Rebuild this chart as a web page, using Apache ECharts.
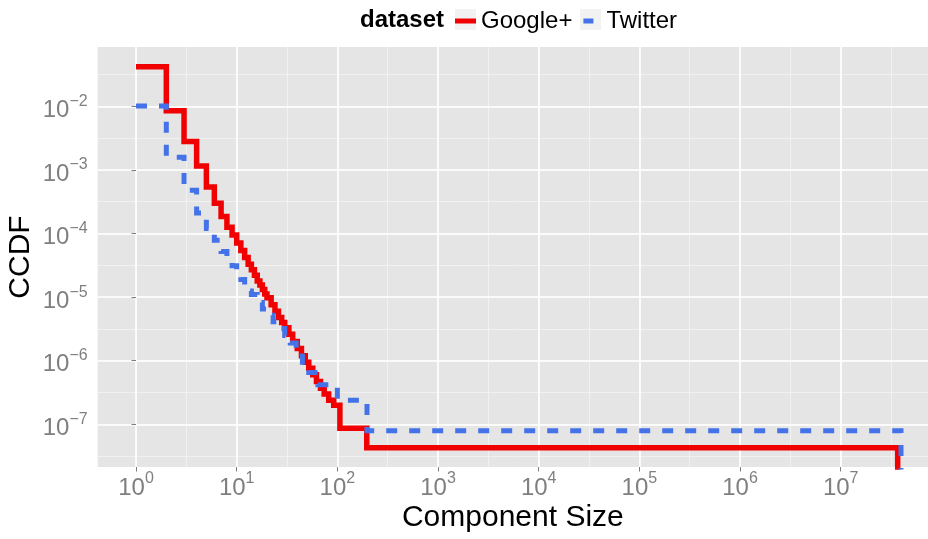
<!DOCTYPE html>
<html><head><meta charset="utf-8">
<script src="https://cdn.jsdelivr.net/npm/echarts@6/dist/echarts.min.js"></script>
<style>html,body{margin:0;padding:0;background:#fff}#c{width:928px;height:539px}</style>
</head><body><div id="c"></div>
<script>
// ---- data ----
const seriesNames = ['Google+', 'Twitter'];
const googleSize = [1, 2, 3, 4, 5, 6, 7, 8, 9, 10, 11, 12, 13, 14, 15, 16, 17, 18, 19, 20,
  22, 24, 26, 28, 30, 33, 36, 40, 44, 48, 52, 57, 62, 68, 74, 82, 92, 106, 196, 3.68e7];
const googleCCDF = [0.042, 8.5e-3, 2.8e-3, 1.15e-3, 5.4e-4, 3.0e-4, 1.85e-4, 1.26e-4, 9.5e-5, 7.1e-5,
  5.4e-5, 4.2e-5, 3.3e-5, 2.7e-5, 2.2e-5, 1.8e-5, 1.55e-5, 1.32e-5, 1.12e-5, 9.8e-6,
  7.6e-6, 6.0e-6, 4.8e-6, 4.0e-6, 3.3e-6, 2.6e-6, 2.0e-6, 1.55e-6, 1.2e-6, 9.5e-7,
  7.6e-7, 6.0e-7, 4.7e-7, 3.7e-7, 3.0e-7, 2.4e-7, 2.0e-7, 8.7e-8, 4.3e-8, 1e-12];
const twitterSize = [1, 2, 3, 4, 5, 6, 7, 8, 9, 10, 11, 12, 13, 14, 16, 18, 20, 23, 26, 30,
  34, 39, 45, 52, 60, 64, 100, 197, 3.97e7];
const twitterCCDF = [1.01e-2, 1.58e-3, 4.8e-4, 2.1e-4, 1.2e-4, 7.8e-5, 5.2e-5, 3.9e-5, 3.1e-5, 2.4e-5,
  1.9e-5, 1.5e-5, 1.25e-5, 1.1e-5, 8.2e-6, 6.5e-6, 5.2e-6, 4.1e-6, 3.2e-6, 2.5e-6,
  1.9e-6, 1.4e-6, 9.5e-7, 6.5e-7, 4.7e-7, 4.2e-7, 2.4e-7, 7.9e-8, 1e-12];
const xTickExponents = [0, 1, 2, 3, 4, 5, 6, 7];
const yTickExponents = [-7, -6, -5, -4, -3, -2];
const legendTitle = 'dataset';
const xTitle = 'Component Size';
const yTitle = 'CCDF';

// ---- layout ----
const FONT = '"Liberation Sans", Arial, Helvetica, sans-serif';
const panel = {left: 97.7, top: 47, width: 830.3, height: 420};
const xExp = [-0.3805, 7.867];
const yExp = [-7.671, -1.0676];
const tickGrey = '#7F7F7F';
const redCol = '#F00000';
const blueCol = '#4472E8';

function powLabel(v, exps) {
  const l = Math.log10(v);
  const e = Math.round(l);
  if (Math.abs(l - e) > 1e-6 || exps.indexOf(e) < 0) return '';
  const s = e < 0 ? '\u2212' + (-e) : String(e);
  return '{b|10}{s|' + s + '}';
}
const rich = {
  b: {fontSize: 24, fontFamily: FONT, color: tickGrey, lineHeight: 24, padding: [8, 0, 0, 0]},
  s: {fontSize: 16, fontFamily: FONT, color: tickGrey, lineHeight: 16, padding: [0, 0, 10, 0]}
};

const chart = echarts.init(document.getElementById('c'), null, {renderer: 'canvas'});
const majorSplit = {show: true, showMinLine: false, showMaxLine: false, lineStyle: {color: '#FFFFFF', width: 1.6}};
const minorSplit = {show: true, showMinLine: false, showMaxLine: false, lineStyle: {color: '#F2F2F2', width: 0.9}};

chart.setOption({
  animation: false,
  backgroundColor: '#FFFFFF',
  grid: {left: panel.left, top: panel.top, width: panel.width, height: panel.height,
    show: true, backgroundColor: '#E5E5E5', borderWidth: 0, containLabel: false, outerBoundsMode: 'none'},
  legend: {
    left: 455, top: 9, padding: 0, itemWidth: 21, itemHeight: 5, itemGap: 8,
    selectedMode: false,
    textStyle: {fontSize: 24, fontFamily: FONT, color: '#000'},
    data: [
      {name: seriesNames[0], icon: 'rect', itemStyle: {color: redCol}},
      {name: seriesNames[1], icon: 'path://M0,0L0,0M3,0L13,0L13,5L3,5ZM21,5L21,5', itemStyle: {color: blueCol}}
    ]
  },
  graphic: [
    {type: 'text', left: 360, top: 8, z: 10, style: {text: legendTitle, font: 'bold 24px ' + FONT, fill: '#000'}},
    {type: 'rect', shape: {x: 455, y: 9, width: 21, height: 21}, z: -1, style: {fill: '#F2F2F2'}},
    {type: 'rect', shape: {x: 580, y: 9, width: 21, height: 21}, z: -1, style: {fill: '#F2F2F2'}}
  ],
  xAxis: [
    {type: 'log', logBase: 10, min: Math.pow(10, xExp[0]), max: Math.pow(10, xExp[1]), splitNumber: 8, z: 2,
     axisLine: {show: false}, axisTick: {show: true, length: 4.5, lineStyle: {color: tickGrey, width: 1}},
     axisLabel: {margin: 5, showMinLabel: false, showMaxLabel: false, formatter: v => powLabel(v, xTickExponents), rich: rich},
     splitLine: majorSplit, minorSplitLine: {show: false},
     name: xTitle, nameLocation: 'middle', nameGap: 36, nameMoveOverlap: false,
     nameTextStyle: {fontSize: 30, fontFamily: FONT, color: '#000'}},
    {type: 'value', min: xExp[0], max: xExp[1], splitNumber: 16, z: 1, position: 'bottom',
     axisLine: {show: false}, axisTick: {show: false}, axisLabel: {show: false}, splitLine: minorSplit}
  ],
  yAxis: [
    {type: 'log', logBase: 10, min: Math.pow(10, yExp[0]), max: Math.pow(10, yExp[1]), splitNumber: 7, z: 2,
     axisLine: {show: false}, axisTick: {show: true, length: 4.5, lineStyle: {color: tickGrey, width: 1}},
     axisLabel: {margin: 10, showMinLabel: false, showMaxLabel: false, formatter: v => powLabel(v, yTickExponents), rich: rich},
     splitLine: majorSplit,
     name: yTitle, nameLocation: 'middle', nameGap: 62, nameRotate: 90, nameMoveOverlap: false,
     nameTextStyle: {fontSize: 30, fontFamily: FONT, color: '#000'}},
    {type: 'value', min: yExp[0], max: yExp[1], splitNumber: 13, z: 1, position: 'left',
     axisLine: {show: false}, axisTick: {show: false}, axisLabel: {show: false}, splitLine: minorSplit}
  ],
  series: [
    {name: seriesNames[0], type: 'line', step: 'end', xAxisIndex: 0, yAxisIndex: 0, z: 3,
     symbol: 'none', showSymbol: false, clip: true,
     lineStyle: {color: redCol, width: 5.5, cap: 'butt', join: 'miter'}, itemStyle: {color: redCol},
     data: googleSize.map((x, i) => [x, googleCCDF[i]])},
    {name: seriesNames[1], type: 'line', step: 'end', xAxisIndex: 0, yAxisIndex: 0, z: 4,
     symbol: 'none', showSymbol: false, clip: true,
     lineStyle: {color: blueCol, width: 5, type: [11, 12], cap: 'butt', join: 'miter'}, itemStyle: {color: blueCol},
     data: twitterSize.map((x, i) => [x, twitterCCDF[i]])}
  ]
});
</script></body></html>
